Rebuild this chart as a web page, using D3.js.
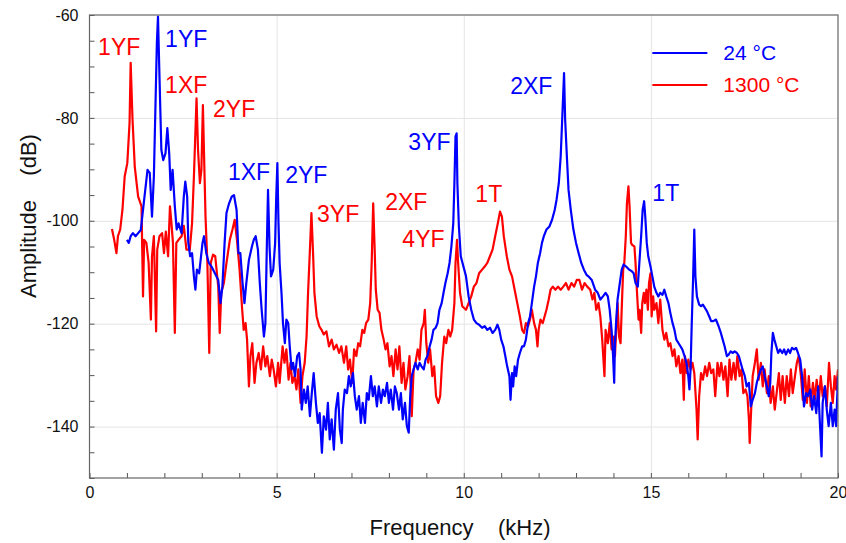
<!DOCTYPE html>
<html lang="en">
<head>
<meta charset="UTF-8">
<title>Amplitude spectrum</title>
<script src="https://d3js.org/d3.v7.min.js"></script>
<style>
    body, html { margin: 0; padding: 0; background: #fff; }
    svg { display: block; font-family: 'Liberation Sans', Arial, sans-serif; }
    .tick text { font-family: 'Liberation Sans', Arial, sans-serif; }
</style>
</head>
<body>
<svg id="chart" width="846" height="543"></svg>
<script>
// 24 °C spectrum (frequency in kHz, amplitude in dB)
const freq24 = [1.00,1.05,1.10,1.16,1.23,1.30,1.37,1.43,1.49,1.55,1.61,1.67,1.72,1.77,1.80,1.83,1.87,1.92,1.97,2.03,
    2.08,2.13,2.17,2.22,2.28,2.33,2.38,2.46,2.52,2.56,2.61,2.64,2.69,2.74,2.79,2.83,2.87,2.93,2.97,3.02,
    3.06,3.12,3.19,3.26,3.35,3.44,3.50,3.55,3.61,3.66,3.73,3.80,3.86,3.93,3.98,4.03,4.09,4.14,4.19,4.26,
    4.34,4.39,4.44,4.50,4.55,4.60,4.66,4.70,4.74,4.77,4.81,4.85,4.91,4.96,4.99,5.02,5.05,5.08,5.13,5.17,
    5.22,5.26,5.31,5.35,5.40,5.44,5.49,5.55,5.60,5.64,5.67,5.73,5.78,5.83,5.89,5.94,5.99,6.05,6.10,6.15,
    6.21,6.26,6.32,6.37,6.42,6.47,6.53,6.58,6.64,6.69,6.74,6.77,6.82,6.88,6.93,6.98,7.04,7.09,7.14,7.20,
    7.25,7.30,7.36,7.41,7.46,7.52,7.57,7.62,7.68,7.73,7.79,7.84,7.89,7.95,8.00,8.05,8.11,8.16,8.21,8.27,
    8.32,8.37,8.43,8.48,8.53,8.57,8.61,8.66,8.71,8.77,8.82,8.87,8.93,8.98,9.03,9.09,9.14,9.19,9.25,9.30,
    9.35,9.41,9.46,9.51,9.57,9.62,9.67,9.72,9.75,9.78,9.81,9.83,9.87,9.92,10.06,10.13,10.20,10.27,10.34,10.41,
    10.49,10.56,10.63,10.70,10.77,10.84,10.90,10.95,11.00,11.06,11.11,11.16,11.22,11.25,11.29,11.32,11.36,11.40,11.45,11.50,
    11.56,11.61,11.66,11.72,11.77,11.82,11.88,11.93,11.98,12.04,12.09,12.14,12.21,12.29,12.36,12.43,12.48,12.54,12.59,12.63,
    12.68,12.71,12.76,12.80,12.86,12.93,13.00,13.07,13.14,13.21,13.28,13.33,13.42,13.51,13.58,13.65,13.72,13.79,13.85,13.90,
    13.95,13.99,14.02,14.04,14.08,14.11,14.17,14.22,14.27,14.34,14.42,14.49,14.54,14.59,14.65,14.68,14.74,14.78,14.82,14.85,
    14.89,14.93,14.99,15.04,15.09,15.15,15.20,15.25,15.31,15.36,15.41,15.47,15.52,15.58,15.63,15.68,15.74,15.79,15.84,15.90,
    15.95,16.00,16.03,16.06,16.09,16.13,16.16,16.19,16.23,16.29,16.34,16.39,16.45,16.50,16.56,16.61,16.67,16.74,16.81,16.87,
    16.92,16.97,17.03,17.08,17.13,17.19,17.24,17.30,17.35,17.40,17.45,17.51,17.56,17.62,17.67,17.72,17.78,17.83,17.88,17.94,
    17.99,18.04,18.10,18.15,18.19,18.22,18.26,18.30,18.35,18.40,18.45,18.51,18.56,18.61,18.67,18.72,18.77,18.83,18.88,18.93,
    18.99,19.04,19.09,19.15,19.20,19.26,19.31,19.36,19.42,19.47,19.52,19.56,19.59,19.65,19.70,19.75,19.81,19.86,19.91,19.95,
    20.00];
const amp24 = [-103.7,-104.3,-103.0,-102.4,-103.0,-102.4,-101.8,-97.9,-94.0,-90.1,-90.7,-99.2,-91.4,-75.2,-65.5,-60.3,-72.0,-86.2,-88.2,-86.9,
    -82.0,-86.9,-94.0,-90.1,-97.2,-101.7,-100.5,-102.4,-95.3,-92.4,-95.3,-104.3,-106.9,-106.3,-110.8,-113.4,-109.5,-110.2,-107.6,-104.3,
    -103.0,-106.3,-108.2,-108.9,-110.2,-111.5,-116.0,-112.8,-104.3,-98.5,-96.6,-95.3,-95.0,-97.9,-106.3,-106.3,-112.1,-116.0,-112.1,-107.6,
    -105.0,-103.7,-103.0,-105.6,-112.1,-117.3,-122.5,-119.9,-104.3,-94.0,-105.0,-110.8,-109.5,-104.3,-95.3,-88.8,-100.5,-108.2,-114.0,-119.9,
    -123.8,-119.2,-119.9,-124.4,-128.9,-127.6,-130.2,-126.3,-125.7,-128.9,-136.7,-132.8,-135.4,-132.2,-138.0,-133.5,-129.6,-135.4,-139.3,-137.4,
    -145.1,-138.0,-140.6,-135.4,-142.5,-138.6,-144.5,-136.7,-133.5,-140.6,-143.2,-136.7,-132.8,-133.5,-130.2,-132.2,-129.6,-134.1,-136.7,-134.1,
    -139.3,-135.4,-139.3,-133.5,-134.8,-130.2,-134.1,-132.2,-136.1,-132.2,-135.4,-132.8,-134.1,-131.5,-135.4,-132.8,-136.7,-132.2,-133.5,-136.7,
    -133.5,-138.6,-135.4,-139.9,-141.2,-134.1,-130.2,-128.9,-127.6,-128.9,-127.6,-128.3,-128.9,-127.0,-126.3,-124.4,-123.1,-121.2,-120.8,-119.9,
    -117.3,-116.0,-114.0,-112.1,-110.2,-108.2,-105.0,-100.5,-92.7,-83.6,-83.0,-92.7,-101.1,-106.9,-110.8,-114.7,-117.3,-119.2,-119.9,-120.2,
    -120.8,-120.5,-121.2,-120.8,-121.8,-121.2,-120.2,-121.2,-123.1,-124.4,-126.3,-128.3,-130.2,-134.8,-129.6,-132.2,-128.3,-130.2,-127.0,-125.7,
    -124.4,-124.4,-123.1,-119.9,-118.6,-116.0,-112.8,-110.8,-108.2,-106.3,-104.3,-103.0,-101.7,-101.1,-99.8,-97.9,-95.9,-92.7,-87.5,-80.4,
    -71.3,-80.4,-88.2,-94.0,-97.9,-101.7,-104.3,-106.3,-108.2,-109.5,-110.5,-110.8,-111.5,-113.4,-114.0,-115.3,-114.7,-114.0,-114.7,-117.3,
    -121.2,-126.3,-131.5,-123.8,-118.6,-115.3,-112.1,-109.5,-108.5,-108.9,-109.5,-109.8,-110.2,-112.1,-112.8,-109.5,-103.0,-97.9,-96.2,-99.2,
    -104.3,-106.9,-108.9,-110.8,-112.8,-114.0,-114.7,-114.0,-114.4,-113.4,-114.7,-116.0,-117.9,-119.9,-121.2,-123.1,-123.8,-124.4,-125.0,-126.3,
    -127.6,-130.2,-132.8,-128.9,-120.5,-110.8,-101.7,-110.8,-114.7,-116.3,-116.6,-116.3,-117.0,-117.6,-118.6,-119.5,-119.5,-119.2,-120.5,-121.8,
    -123.1,-124.4,-126.3,-126.0,-125.4,-125.7,-125.4,-125.7,-126.3,-127.6,-128.9,-130.2,-132.2,-131.5,-136.1,-134.8,-133.5,-131.5,-130.2,-128.9,
    -128.3,-130.2,-132.2,-134.1,-131.5,-125.7,-121.8,-123.1,-124.4,-125.7,-125.0,-125.7,-125.0,-126.0,-125.0,-125.7,-124.7,-125.0,-124.7,-125.7,
    -127.0,-130.2,-136.1,-133.5,-134.1,-132.8,-136.7,-134.1,-137.4,-132.2,-139.9,-145.8,-135.4,-132.2,-136.7,-139.9,-135.4,-139.9,-136.7,-139.9,
    -130.2];

// 1300 °C spectrum
const freq1300 = [0.60,0.66,0.72,0.76,0.82,0.88,0.94,1.01,1.07,1.10,1.15,1.21,1.30,1.39,1.43,1.46,1.52,1.58,1.64,1.67,
    1.72,1.78,1.81,1.87,1.94,1.99,2.04,2.10,2.15,2.19,2.23,2.28,2.32,2.38,2.46,2.52,2.59,2.68,2.74,2.79,
    2.86,2.90,2.95,2.99,3.03,3.06,3.10,3.15,3.20,3.24,3.30,3.36,3.44,3.48,3.52,3.59,3.66,3.75,3.82,3.88,
    3.94,4.01,4.08,4.12,4.17,4.21,4.26,4.30,4.35,4.41,4.46,4.52,4.58,4.64,4.70,4.75,4.82,4.87,4.92,4.98,
    5.04,5.08,5.16,5.21,5.26,5.32,5.37,5.42,5.48,5.53,5.58,5.64,5.69,5.75,5.80,5.84,5.89,5.93,5.97,6.01,
    6.07,6.14,6.20,6.26,6.33,6.40,6.47,6.53,6.60,6.67,6.73,6.80,6.86,6.91,6.96,7.02,7.07,7.13,7.18,7.23,
    7.29,7.34,7.39,7.45,7.50,7.54,7.58,7.62,7.65,7.70,7.75,7.80,7.86,7.91,7.96,8.02,8.07,8.12,8.18,8.23,
    8.28,8.34,8.39,8.44,8.50,8.55,8.61,8.66,8.71,8.77,8.82,8.87,8.93,8.96,9.00,9.05,9.10,9.16,9.21,9.26,
    9.32,9.37,9.42,9.48,9.53,9.59,9.64,9.69,9.75,9.78,9.82,9.85,9.90,9.96,10.06,10.13,10.20,10.27,10.34,10.41,
    10.49,10.56,10.63,10.70,10.77,10.84,10.91,10.97,11.02,11.07,11.15,11.22,11.29,11.36,11.43,11.50,11.56,11.61,11.66,11.72,
    11.77,11.82,11.88,11.93,11.97,12.00,12.05,12.11,12.16,12.21,12.27,12.32,12.38,12.45,12.52,12.59,12.66,12.73,12.80,12.88,
    12.95,13.02,13.09,13.16,13.23,13.30,13.38,13.44,13.49,13.54,13.60,13.65,13.70,13.76,13.79,13.85,13.90,13.95,14.01,14.04,
    14.08,14.11,14.15,14.19,14.22,14.26,14.29,14.33,14.36,14.40,14.43,14.47,14.50,14.56,14.59,14.63,14.67,14.70,14.74,14.77,
    14.81,14.84,14.88,14.92,14.95,14.99,15.02,15.06,15.09,15.15,15.20,15.25,15.31,15.36,15.41,15.47,15.52,15.58,15.63,15.68,
    15.74,15.79,15.84,15.88,15.91,15.96,16.00,16.06,16.11,16.16,16.22,16.25,16.29,16.34,16.39,16.45,16.50,16.56,16.61,16.67,
    16.72,16.78,16.83,16.88,16.94,16.99,17.05,17.10,17.15,17.21,17.26,17.31,17.37,17.42,17.47,17.53,17.58,17.62,17.64,17.68,
    17.72,17.78,17.83,17.88,17.94,17.99,18.04,18.10,18.15,18.20,18.26,18.31,18.36,18.42,18.47,18.52,18.58,18.63,18.69,18.74,
    18.79,18.85,18.90,18.95,19.01,19.06,19.11,19.17,19.22,19.27,19.33,19.38,19.43,19.49,19.54,19.59,19.65,19.70,19.76,19.81,
    19.86,19.91,19.95,20.00];
const amp1300 = [-101.6,-103.7,-106.3,-103.0,-101.7,-97.9,-91.4,-88.8,-81.0,-69.3,-80.4,-89.5,-95.3,-97.2,-114.7,-103.7,-104.3,-108.2,-119.2,-106.9,
    -103.0,-121.5,-105.6,-103.0,-102.4,-106.3,-102.1,-106.9,-97.2,-100.5,-104.3,-121.8,-104.3,-103.7,-103.0,-101.0,-105.6,-105.6,-100.5,-91.4,
    -76.2,-86.2,-92.7,-90.1,-77.5,-86.9,-99.2,-108.2,-125.7,-108.2,-106.6,-106.9,-112.8,-121.8,-114.0,-112.1,-108.2,-103.7,-101.7,-99.8,
    -103.7,-109.5,-117.3,-121.2,-119.9,-123.1,-132.2,-126.3,-123.8,-131.5,-127.6,-125.7,-128.9,-124.4,-128.3,-126.3,-130.2,-127.0,-128.9,-132.2,
    -127.6,-131.5,-124.4,-127.6,-125.0,-130.9,-127.6,-131.5,-130.2,-132.8,-128.9,-135.4,-130.2,-127.6,-122.5,-114.0,-105.6,-98.5,-105.6,-114.0,
    -118.6,-120.5,-121.2,-122.1,-121.5,-124.4,-123.1,-125.0,-124.1,-125.7,-124.4,-127.6,-124.4,-128.9,-127.0,-131.5,-125.0,-126.3,-123.8,-124.4,
    -121.2,-121.8,-119.9,-119.2,-116.0,-108.2,-96.6,-105.6,-113.4,-117.3,-117.9,-121.2,-123.1,-125.0,-123.8,-128.3,-126.3,-130.2,-125.0,-128.9,
    -124.4,-131.5,-127.6,-132.8,-130.2,-126.3,-138.0,-128.9,-127.6,-125.0,-127.0,-121.2,-119.9,-117.3,-123.8,-127.6,-125.0,-130.2,-128.3,-134.1,
    -135.4,-134.1,-127.6,-122.5,-123.8,-121.2,-122.5,-121.2,-116.0,-108.2,-103.7,-108.2,-114.0,-116.6,-117.3,-116.0,-114.7,-112.8,-112.1,-110.2,
    -109.5,-108.9,-108.2,-106.9,-105.6,-103.0,-100.5,-98.2,-99.2,-103.0,-106.9,-109.5,-110.8,-113.4,-116.0,-118.6,-121.2,-121.8,-119.9,-120.5,
    -119.2,-117.3,-119.9,-121.2,-124.4,-121.2,-119.2,-119.9,-118.6,-117.3,-115.3,-113.4,-112.8,-113.4,-112.8,-113.4,-112.8,-112.1,-113.4,-112.1,
    -112.8,-111.5,-111.5,-113.4,-112.1,-112.8,-113.4,-115.3,-114.0,-117.3,-116.0,-118.6,-123.1,-130.2,-121.2,-123.8,-119.9,-125.0,-122.5,-126.3,
    -120.5,-116.0,-122.5,-123.8,-117.3,-109.5,-108.2,-103.0,-96.6,-93.3,-97.2,-104.3,-104.7,-105.0,-108.2,-114.0,-119.2,-117.3,-121.8,-116.0,
    -114.0,-116.0,-113.4,-117.3,-112.1,-110.2,-118.6,-114.7,-117.3,-116.0,-119.9,-115.3,-121.2,-123.1,-121.8,-124.4,-123.8,-126.3,-125.0,-128.3,
    -126.3,-129.6,-127.0,-134.8,-126.3,-129.6,-127.0,-128.9,-127.6,-129.6,-136.7,-142.5,-134.1,-129.6,-130.9,-128.3,-130.2,-127.6,-129.6,-128.9,
    -134.1,-127.6,-130.2,-127.6,-130.9,-128.3,-134.1,-127.0,-130.9,-127.6,-130.9,-126.3,-130.2,-128.9,-133.5,-132.8,-134.1,-138.6,-143.2,-136.7,
    -130.2,-127.6,-125.0,-130.9,-127.6,-132.2,-128.9,-133.5,-130.2,-135.4,-132.2,-136.7,-133.5,-129.6,-134.8,-130.2,-135.4,-130.2,-134.1,-128.9,
    -133.5,-130.2,-127.6,-126.3,-130.2,-134.8,-128.9,-135.4,-130.2,-136.1,-131.5,-134.8,-130.9,-134.8,-130.2,-134.1,-132.2,-136.1,-127.6,-132.2,
    -135.4,-130.2,-132.8,-128.9];

// mode labels placed at [frequency kHz, amplitude dB] of text baseline start
const labelText = ['1YF', '1YF', '1XF', '2YF', '1XF', '2YF', '3YF', '2XF', '4YF', '3YF', '1T', '2XF', '1T'];
const labelSeries = ['1300', '24', '1300', '1300', '24', '24', '1300', '1300', '1300', '24', '1300', '24', '24'];
const labelFreq = [0.23, 2.02, 2.02, 3.30, 3.70, 5.23, 6.08, 7.90, 8.36, 8.52, 10.31, 11.24, 15.04];
const labelAmp = [-67.8, -66.2, -75.1, -79.8, -92.0, -92.6, -100.2, -97.9, -105.0, -86.2, -96.3, -75.3, -96.1];

const legendNames = ['24 °C', '1300 °C'];
const colors = { '24': '#0000ff', '1300': '#ff0000' };

const svg = d3.select('#chart');
const margin = { left: 89.5, right: 8, top: 15, bottom: 65 };
const W = 846, H = 543;
const width = W - margin.left - margin.right;
const height = H - margin.top - margin.bottom;

const x = d3.scaleLinear().domain([0, 20]).range([0, width]);
const y = d3.scaleLinear().domain([-150, -60]).range([height, 0]);

const g = svg.append('g').attr('transform', `translate(${margin.left},${margin.top})`);

// grid
g.append('g')
    .call(d3.axisLeft(y).tickValues([-140, -120, -100, -80]).tickSize(-width).tickFormat(''))
    .call(a => a.select('.domain').remove())
    .selectAll('line').attr('stroke', '#e4e4e4');
g.append('g')
    .attr('transform', `translate(0,${height})`)
    .call(d3.axisBottom(x).tickValues([5, 10, 15]).tickSize(height).tickFormat(''))
    .call(a => a.select('.domain').remove())
    .selectAll('line').attr('stroke', '#e4e4e4').attr('transform', `translate(0,${-height})`);

// clip
svg.append('clipPath').attr('id', 'clip')
    .append('rect').attr('width', width).attr('height', height);

const line = d3.line().x(d => x(d[0])).y(d => y(d[1]));
const series = [
    { key: '24', data: d3.zip(freq24, amp24) },
    { key: '1300', data: d3.zip(freq1300, amp1300) }
];
g.append('g').attr('clip-path', 'url(#clip)')
    .selectAll('path')
    .data([series[1], series[0]])
    .join('path')
    .attr('d', d => line(d.data))
    .attr('fill', 'none')
    .attr('stroke', d => colors[d.key])
    .attr('stroke-width', 2.2)
    .attr('stroke-linejoin', 'round');

// axes with inward ticks
const yAxis = g.append('g')
    .call(d3.axisLeft(y).tickValues(d3.range(-150, -59, 5)).tickSize(-5).tickPadding(11)
        .tickFormat(d => d % 20 === 0 ? String(d) : ''));
const xAxis = g.append('g')
    .attr('transform', `translate(0,${height})`)
    .call(d3.axisBottom(x).tickValues(d3.range(0, 21, 1)).tickSize(-5).tickPadding(9)
        .tickFormat(d => d % 5 === 0 ? String(d) : ''));
[yAxis, xAxis].forEach(a => {
    a.select('.domain').remove();
    a.selectAll('line').attr('stroke', '#555');
    a.selectAll('text').attr('font-size', 16).attr('fill', '#111');
});

g.append('rect')
    .attr('width', width).attr('height', height)
    .attr('fill', 'none').attr('stroke', '#666').attr('stroke-width', 1.2);

// mode labels
g.selectAll('.mode')
    .data(labelText.map((t, i) => ({ t, s: labelSeries[i], f: labelFreq[i], a: labelAmp[i] })))
    .join('text')
    .attr('class', 'mode')
    .attr('x', d => x(d.f))
    .attr('y', d => y(d.a))
    .attr('fill', d => colors[d.s])
    .attr('font-size', 23)
    .text(d => d.t);

// legend
const legend = g.append('g').attr('transform', `translate(${x(15.04)},${38})`);
legendNames.forEach((name, i) => {
    const key = i === 0 ? '24' : '1300';
    legend.append('line')
        .attr('x1', 0).attr('x2', 55)
        .attr('y1', i * 32).attr('y2', i * 32)
        .attr('stroke', colors[key]).attr('stroke-width', 2.2);
    legend.append('text')
        .attr('x', 71).attr('y', i * 32 + 7)
        .attr('fill', colors[key])
        .attr('font-size', 21)
        .text(name);
});

// axis titles
svg.append('text')
    .attr('x', 460).attr('y', 535)
    .attr('text-anchor', 'middle')
    .attr('font-size', 22)
    .style('white-space', 'pre')
    .attr('fill', '#111')
    .text('Frequency    (kHz)');
svg.append('text')
    .attr('transform', `translate(36,${216}) rotate(-90)`)
    .attr('text-anchor', 'middle')
    .attr('font-size', 22)
    .style('white-space', 'pre')
    .attr('fill', '#111')
    .text('Amplitude    (dB)');
</script>
</body>
</html>
